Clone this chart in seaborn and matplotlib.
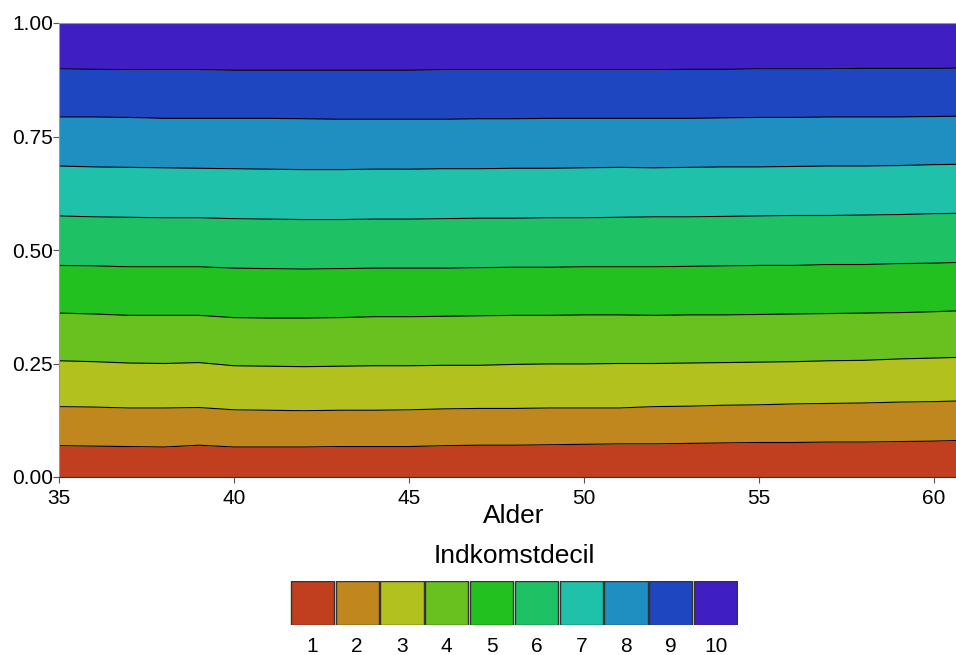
"""
    stacked shares of income deciles by age
"""

import matplotlib
matplotlib.use('Agg')
import matplotlib.pyplot as plt
import numpy as np
import pandas as pd
import seaborn as sns

ages = list(range(35, 62))

# cumulative share up to and including decile k
upto_1 = [0.069, 0.068, 0.067, 0.066, 0.070, 0.066, 0.066, 0.066, 0.067, 0.067, 0.067, 0.069, 0.070, 0.070,
          0.071, 0.072, 0.073, 0.073, 0.074, 0.075, 0.076, 0.076, 0.077, 0.077, 0.078, 0.079, 0.081]
upto_2 = [0.155, 0.154, 0.152, 0.152, 0.153, 0.148, 0.147, 0.146, 0.147, 0.147, 0.148, 0.150, 0.151, 0.151,
          0.152, 0.152, 0.152, 0.155, 0.156, 0.158, 0.159, 0.161, 0.162, 0.163, 0.165, 0.166, 0.168]
upto_3 = [0.256, 0.254, 0.251, 0.250, 0.252, 0.245, 0.244, 0.243, 0.244, 0.245, 0.245, 0.246, 0.246, 0.248,
          0.249, 0.249, 0.250, 0.250, 0.251, 0.252, 0.253, 0.254, 0.256, 0.257, 0.260, 0.262, 0.264]
upto_4 = [0.361, 0.359, 0.356, 0.356, 0.356, 0.351, 0.350, 0.350, 0.351, 0.353, 0.353, 0.354, 0.355, 0.356,
          0.356, 0.357, 0.357, 0.356, 0.357, 0.357, 0.358, 0.359, 0.360, 0.361, 0.362, 0.364, 0.367]
upto_5 = [0.466, 0.465, 0.463, 0.463, 0.463, 0.460, 0.459, 0.458, 0.459, 0.460, 0.460, 0.460, 0.461, 0.462,
          0.462, 0.463, 0.463, 0.463, 0.464, 0.465, 0.466, 0.466, 0.468, 0.468, 0.470, 0.471, 0.473]
upto_6 = [0.575, 0.573, 0.572, 0.571, 0.571, 0.569, 0.568, 0.567, 0.567, 0.568, 0.568, 0.569, 0.570, 0.570,
          0.571, 0.571, 0.572, 0.573, 0.573, 0.574, 0.575, 0.576, 0.576, 0.577, 0.578, 0.580, 0.581]
upto_7 = [0.685, 0.683, 0.682, 0.681, 0.680, 0.679, 0.678, 0.677, 0.677, 0.678, 0.678, 0.679, 0.679, 0.680,
          0.680, 0.681, 0.682, 0.681, 0.682, 0.683, 0.683, 0.684, 0.685, 0.685, 0.686, 0.688, 0.689]
upto_8 = [0.793, 0.793, 0.792, 0.790, 0.790, 0.790, 0.790, 0.789, 0.788, 0.788, 0.788, 0.788, 0.789, 0.789,
          0.790, 0.790, 0.790, 0.790, 0.790, 0.791, 0.792, 0.792, 0.793, 0.793, 0.793, 0.794, 0.795]
upto_9 = [0.899, 0.898, 0.897, 0.897, 0.897, 0.896, 0.896, 0.896, 0.896, 0.896, 0.896, 0.897, 0.897, 0.897,
          0.897, 0.897, 0.897, 0.897, 0.898, 0.898, 0.899, 0.899, 0.899, 0.900, 0.900, 0.900, 0.901]

deciles = ['1', '2', '3', '4', '5', '6', '7', '8', '9', '10']
colors = ['#C13F1F', '#C1871F', '#B3C11F', '#69C11F', '#22C11F',
          '#1FC165', '#1FC1AB', '#1F8EC1', '#1F46C1', '#3F1FC1']

sns.set_theme(style='white')
plt.rcParams['font.family'] = ['Liberation Sans', 'DejaVu Sans']
plt.rcParams['text.color'] = 'black'
plt.rcParams['xtick.color'] = 'black'
plt.rcParams['ytick.color'] = 'black'
plt.rcParams['axes.labelcolor'] = 'black'

bounds = [upto_1, upto_2, upto_3, upto_4, upto_5, upto_6, upto_7, upto_8, upto_9]
lower = [np.zeros(len(ages))] + [np.array(b) for b in bounds]
upper = [np.array(b) for b in bounds] + [np.ones(len(ages))]

fig = plt.figure(figsize=(9.56, 6.55), dpi=100)
W, H = 956, 655
ax = fig.add_axes([59 / W, 1 - 477 / H, 910 / W, 454 / H])

for lo, hi, c in zip(lower, upper, colors):
    ax.fill_between(ages, lo, hi, color=c, linewidth=0)

# black borders between the deciles
long = pd.DataFrame({
    'Alder': np.tile(ages, len(bounds)),
    'andel': np.concatenate(bounds),
    'grp': np.repeat(range(len(bounds)), len(ages)),
})
sns.lineplot(data=long, x='Alder', y='andel', units='grp', estimator=None,
             color='black', linewidth=0.8, ax=ax, legend=False)

ax.set_xlim(35, 61)
ax.set_ylim(0, 1)
ax.set_xticks([35, 40, 45, 50, 55, 60])
ax.set_yticks([0, 0.25, 0.5, 0.75, 1.0])
ax.set_yticklabels(['0.00', '0.25', '0.50', '0.75', '1.00'])
ax.tick_params(axis='both', labelsize=15, length=4, width=0.8, color='#555555',
               labelcolor='black', bottom=True, left=True)
ax.tick_params(axis='y', pad=0.5)
ax.tick_params(axis='x', pad=5)
ax.set_xlabel('Alder', fontsize=19, labelpad=-3, color='black')
ax.set_ylabel('')
for s in ['left', 'top']:
    ax.spines[s].set_color('#999999')
    ax.spines[s].set_linewidth(0.8)
ax.spines['bottom'].set_color('#333333')
ax.spines['bottom'].set_linewidth(0.8)
ax.spines['right'].set_visible(False)

# legend as a row of boxes
lax = fig.add_axes([290 / W, 1 - 624.5 / H, 448 / W, 44 / H])
leg = pd.DataFrame({'decil': deciles, 'v': [1] * 10})
sns.barplot(data=leg, x='decil', y='v', hue='decil', palette=colors, legend=False,
            saturation=1, width=0.965, edgecolor='#333333', linewidth=1, ax=lax)
lax.set_xlim(-0.5, 9.5)
lax.set_ylim(0, 1)
lax.set_yticks([])
lax.set_xlabel('')
lax.set_ylabel('')
lax.tick_params(axis='x', labelsize=15, length=0, pad=9, labelcolor='black')
for s in lax.spines.values():
    s.set_visible(False)
fig.text(514 / W, 1 - 563 / H, 'Indkomstdecil', ha='center', va='baseline',
         fontsize=19, color='black')

fig.savefig('out.png', dpi=100)
